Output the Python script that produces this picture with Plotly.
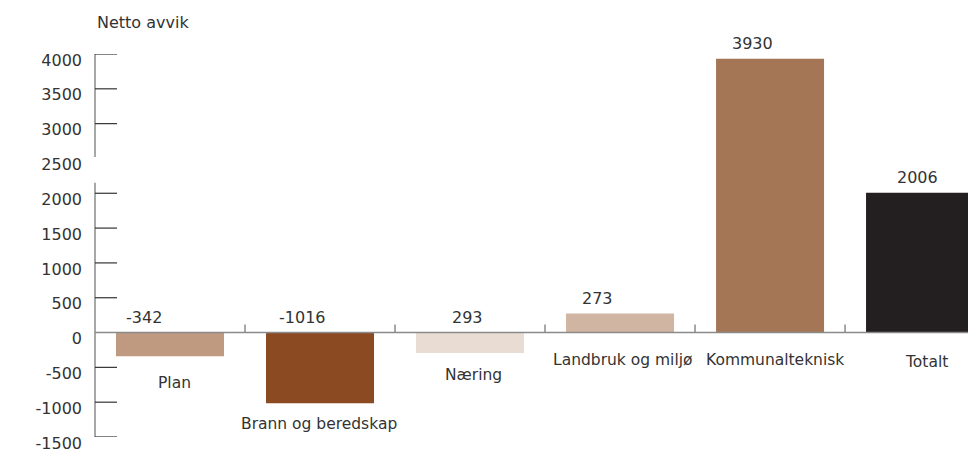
import plotly.graph_objects as go

categories = ["Plan", "Brann og beredskap", "Næring", "Landbruk og miljø", "Kommunalteknisk", "Totalt"]
bar_values = [-342, -1016, -293, 273, 3930, 2006]
value_labels = ["-342", "-1016", "293", "273", "3930", "2006"]
tick_values = [-1500, -1000, -500, 0, 500, 1000, 1500, 2000, 2500, 3000, 3500, 4000]
tick_marks = [-1500, -1000, -500, 500, 1000, 1500, 2000, 3000, 3500, 4000]
axis_segments = [(-1500, 2150), (2520, 4000)]
y_title = "Netto avvik"

colors = ["#bf9a80", "#8b4a22", "#e8dcd3", "#d0b5a2", "#a57656", "#231f20"]
value_dx = [-26, -18, -3, -23, -18, -3]
label_dx = [4, -1, 3, 3, 5, 6]
label_dy = [-16, -10, -11, -16, -16, -18]

FONT = "DejaVu Sans"
TXT = "#333333"

x = list(range(len(categories)))
fig = go.Figure(go.Bar(x=x, y=bar_values, width=0.72, marker=dict(color=colors, line=dict(width=0)),
                       hoverinfo="skip"))

shapes = []
shapes.append(dict(type="line", xref="paper", yref="y", x0=0, x1=1, y0=0, y1=0,
                   line=dict(color="#8a8a8a", width=1.5), layer="above"))
for i in range(len(categories) - 1):
    shapes.append(dict(type="line", xref="x", yref="y", ysizemode="pixel", yanchor=0,
                       x0=i + 0.5, x1=i + 0.5, y0=0, y1=8,
                       line=dict(color="#8a8a8a", width=1.5)))
for a, b in axis_segments:
    shapes.append(dict(type="line", xref="paper", yref="y", x0=0, x1=0, y0=a, y1=b,
                       line=dict(color="#8a8a8a", width=1.5)))
for t in tick_marks:
    shapes.append(dict(type="line", xref="paper", yref="y", xsizemode="pixel", xanchor=0,
                       x0=0, x1=22, y0=t, y1=t, line=dict(color="#333333", width=1.2)))

annotations = []
for i, (v, lab) in enumerate(zip(bar_values, value_labels)):
    annotations.append(dict(x=i, y=max(v, 0), text=lab, showarrow=False, yanchor="bottom",
                            xanchor="center", yshift=4, xshift=value_dx[i],
                            font=dict(family=FONT, size=16, color=TXT)))
    annotations.append(dict(x=i, y=min(v, 0), text=categories[i], showarrow=False, yanchor="top",
                            xanchor="center", yshift=label_dy[i], xshift=label_dx[i],
                            font=dict(family=FONT, size=15.5, color=TXT)))
annotations.append(dict(xref="paper", yref="paper", x=0, y=1, xanchor="left", yanchor="bottom",
                        yshift=20, text=y_title, showarrow=False,
                        font=dict(family=FONT, size=16, color=TXT)))

fig.update_layout(
    width=968, height=444,
    margin=dict(l=87, r=0, t=46, b=15, autoexpand=False),
    paper_bgcolor="white", plot_bgcolor="white",
    showlegend=False,
    shapes=shapes, annotations=annotations,
    xaxis=dict(range=[-0.5, 5.373], showticklabels=False, showgrid=False, zeroline=False,
               showline=False, ticks="", automargin=False),
    yaxis=dict(range=[-1500, 4000], tickvals=tick_values, ticktext=[str(t) for t in tick_values],
               showgrid=False, zeroline=False, showline=False, ticks="", automargin=False,
               ticklabelstandoff=12, ticklabelshift=6, ticklabeloverflow="allow",
               tickfont=dict(family=FONT, size=16, color=TXT)),
)

fig.write_html("out.html")
